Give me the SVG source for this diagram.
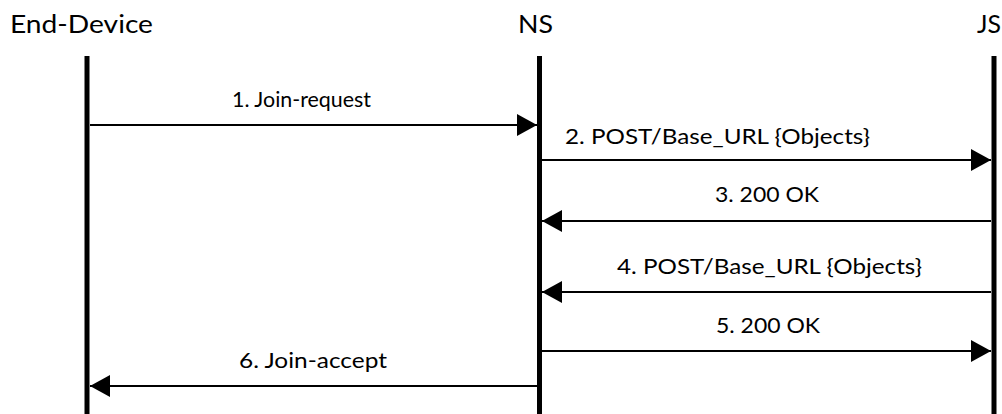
<svg xmlns="http://www.w3.org/2000/svg" width="1002" height="414" viewBox="0 0 1002 414">
  <style>
    .title { font-family: Lato, "Open Sans", "Liberation Sans", sans-serif; font-size: 25px; fill: #000; }
    .label { font-family: Lato, "Open Sans", "Liberation Sans", sans-serif; font-size: 21.5px; fill: #000; }
    .lifeline { stroke: #000; stroke-width: 5; fill: none; }
    .msg { stroke: #000; stroke-width: 2; fill: none; marker-end: url(#head); }
  </style>
  <defs>
    <marker id="head" viewBox="0 0 20 22" refX="20" refY="11" markerWidth="20" markerHeight="22" markerUnits="userSpaceOnUse" orient="auto">
      <path d="M0,0 L20,11 L0,22 Z" fill="#000"/>
    </marker>
  </defs>
  <rect width="1002" height="414" fill="#fff"/>

  <g id="end-device">
    <text class="title" x="10" y="33" textLength="143" lengthAdjust="spacingAndGlyphs">End-Device</text>
    <line class="lifeline" x1="87" y1="56" x2="87" y2="414"/>
  </g>
  <g id="ns">
    <text class="title" x="518" y="33" textLength="35" lengthAdjust="spacingAndGlyphs">NS</text>
    <line class="lifeline" x1="539.5" y1="56" x2="539.5" y2="414"/>
  </g>
  <g id="js">
    <text class="title" x="977" y="33" textLength="24" lengthAdjust="spacingAndGlyphs">JS</text>
    <line class="lifeline" x1="994" y1="56" x2="994" y2="414"/>
  </g>

  <g id="connectors">
    <line class="msg" x1="90" y1="125" x2="537" y2="125"/>
    <text class="label" x="232" y="107" textLength="139" lengthAdjust="spacingAndGlyphs">1. Join-request</text>

    <line class="msg" x1="542" y1="160" x2="991" y2="160"/>
    <text class="label" x="565" y="144" textLength="305" lengthAdjust="spacingAndGlyphs">2. POST/Base_URL {Objects}</text>

    <line class="msg" x1="991" y1="221" x2="542" y2="221"/>
    <text class="label" x="715" y="202" textLength="104" lengthAdjust="spacingAndGlyphs">3. 200 OK</text>

    <line class="msg" x1="991" y1="292" x2="542" y2="292"/>
    <text class="label" x="617" y="274" textLength="305" lengthAdjust="spacingAndGlyphs">4. POST/Base_URL {Objects}</text>

    <line class="msg" x1="542" y1="351" x2="991" y2="351"/>
    <text class="label" x="716" y="333" textLength="104" lengthAdjust="spacingAndGlyphs">5. 200 OK</text>

    <line class="msg" x1="537" y1="386" x2="90" y2="386"/>
    <text class="label" x="239" y="368" textLength="148" lengthAdjust="spacingAndGlyphs">6. Join-accept</text>
  </g>
</svg>
